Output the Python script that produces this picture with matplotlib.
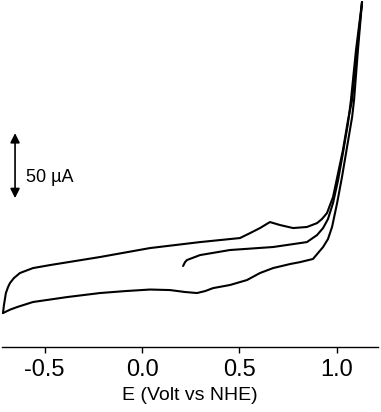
import matplotlib
matplotlib.use("Agg")
import matplotlib.pyplot as plt

plt.rcParams['font.family'] = ['Liberation Sans', 'DejaVu Sans']
plt.rcParams['axes.unicode_minus'] = False

# potential (V vs NHE) and current (uA)
# first sweep, starting at 0.2 V going anodic
e_fwd1 = [0.211, 0.221, 0.231, 0.298, 0.452, 0.673, 0.847, 0.899, 0.930,
          0.955, 0.981, 1.007, 1.032, 1.058, 1.073, 1.099, 1.130]
i_fwd1 = [10.8, 13.8, 15.4, 19.2, 23.1, 25.4, 29.2, 34.6, 40.0,
          46.9, 59.2, 76.9, 97.7, 120.7, 138.4, 176.9, 213.8]

# reverse sweep, 1.13 V back to -0.71 V
e_rev = [1.130, 1.109, 1.089, 1.079, 1.053, 1.027, 1.002, 0.976, 0.955,
         0.930, 0.878, 0.812, 0.760, 0.673, 0.606, 0.539, 0.452, 0.365,
         0.324, 0.282, 0.221, 0.144, 0.041, -0.087, -0.216, -0.385, -0.560,
         -0.642, -0.678, -0.714]
i_rev = [213.8, 176.9, 138.4, 125.3, 102.3, 79.2, 59.2, 40.8, 31.5,
         25.4, 16.2, 13.8, 12.3, 9.2, 5.4, 0.0, -3.8, -6.2,
         -8.5, -10.0, -9.2, -7.7, -7.3, -8.5, -10.0, -13.1, -16.9,
         -20.8, -22.8, -25.4]

# second anodic sweep
e_fwd2 = [-0.714, -0.709, -0.699, -0.688, -0.678, -0.658, -0.627, -0.560,
          -0.473, -0.216, 0.041, 0.298, 0.503, 0.555, 0.606, 0.657, 0.709,
          0.776, 0.847, 0.899, 0.924, 0.950, 0.981, 1.007, 1.032, 1.058,
          1.079, 1.104, 1.130]
i_fwd2 = [-25.4, -19.2, -10.0, -5.4, -2.3, 1.5, 5.4, 9.2,
          11.5, 17.7, 24.6, 29.2, 32.3, 36.1, 40.0, 44.6, 42.3,
          40.0, 40.8, 43.8, 46.9, 51.5, 63.8, 82.3, 100.0, 123.0,
          138.4, 176.9, 213.8]

xticks = [-0.5, 0.0, 0.5, 1.0]
xticklabels = ['-0.5', '0.0', '0.5', '1.0']
scale_ua = 50

fig = plt.figure(figsize=(3.81, 4.12), dpi=100)
ax = fig.add_axes([2 / 381, 65 / 412, 376 / 381, 347 / 412])

for e, i in [(e_fwd1, i_fwd1), (e_rev, i_rev), (e_fwd2, i_fwd2)]:
    ax.plot(e, i, color='black', lw=1.5, solid_joinstyle='round',
            solid_capstyle='round')

ax.set_xlim(-0.719, 1.212)
ax.set_ylim(-51.5, 215.4)

for s in ['top', 'right', 'left']:
    ax.spines[s].set_visible(False)
ax.spines['bottom'].set_linewidth(1.0)
ax.set_yticks([])
ax.set_xticks(xticks)
ax.set_xticklabels(xticklabels, fontsize=17)
ax.tick_params(axis='x', direction='out', length=4, width=1.0, pad=5)
ax.set_xlabel('E (Volt vs NHE)', fontsize=14, labelpad=4)

# current scale bar
y0 = 63.0
ax.annotate('', xy=(-0.652, y0 + scale_ua), xytext=(-0.652, y0),
            arrowprops=dict(arrowstyle='<|-|>', color='black', lw=1.2,
                            mutation_scale=14, shrinkA=0, shrinkB=0))
ax.text(-0.595, 79.0, '50 µA', fontsize=13, ha='left', va='center')

fig.savefig('out.png', dpi=100)
